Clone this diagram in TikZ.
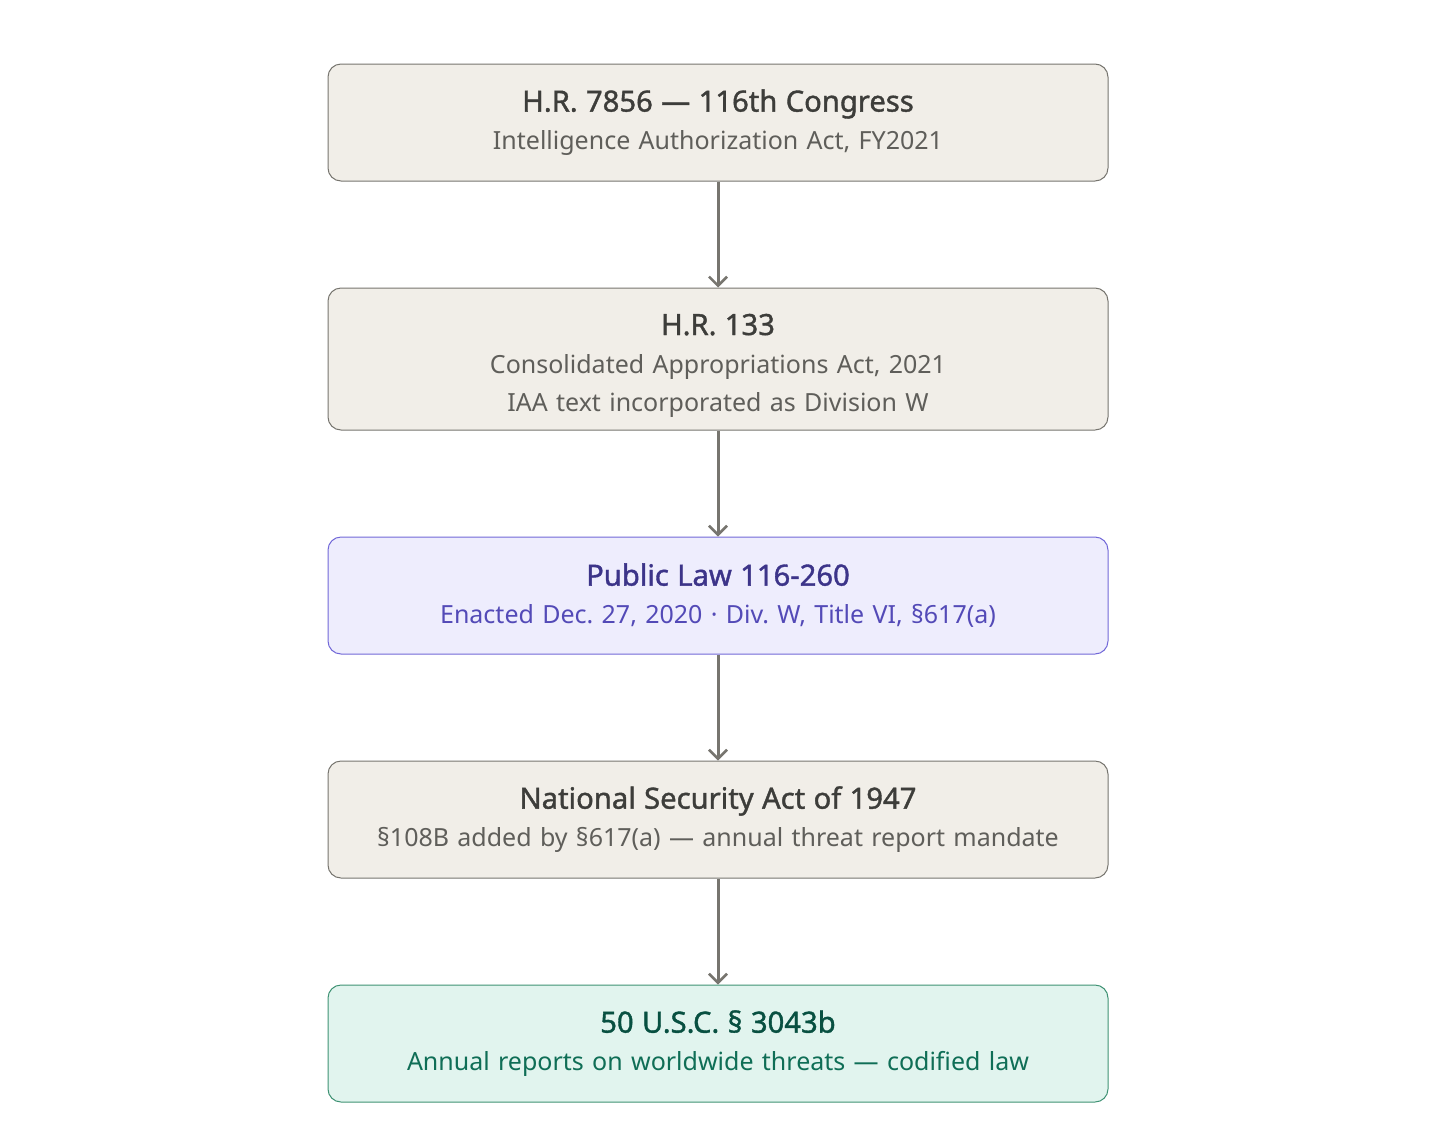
\documentclass[tikz,border=0pt]{standalone}
\usepackage{fontspec}
\setmainfont{Noto Sans}[BoldFont={Noto Sans}, BoldFeatures={FakeBold=1.3}]
\usepackage{tikz}
\usepackage{xcolor}
\usetikzlibrary{arrows.meta, positioning}

\definecolor{paper}{HTML}{F1EEE8}
\definecolor{paperline}{HTML}{77756F}
\definecolor{inkdark}{HTML}{3D3D3A}
\definecolor{inkgray}{HTML}{5F5E5A}
\definecolor{lawfill}{HTML}{EEEDFD}
\definecolor{lawline}{HTML}{7268D8}
\definecolor{lawdark}{HTML}{3C3489}
\definecolor{lawmid}{HTML}{534AB7}
\definecolor{uscfill}{HTML}{E1F4EE}
\definecolor{uscline}{HTML}{3F9274}
\definecolor{uscdark}{HTML}{085041}
\definecolor{uscmid}{HTML}{0F6E56}
\definecolor{flow}{HTML}{77756F}

\newcommand{\head}[1]{{\fontsize{29.2}{38}\selectfont\bfseries #1}}

\begin{document}
\frenchspacing
\begin{tikzpicture}[
    node distance=106pt,
    every node/.style={rectangle, rounded corners=13pt, draw=paperline, fill=paper,
        line width=1pt, text width=760pt, minimum width=780pt, minimum height=117pt,
        align=center, text=inkgray, font=\fontsize{25}{38}\selectfont},
    enacted/.style={draw=lawline, fill=lawfill, text=lawmid},
    codified/.style={draw=uscline, fill=uscfill, text=uscmid},
    flowline/.style={draw=flow, line width=3pt, -{Straight Barb[length=9pt, width=18pt, line width=2.6pt]}}
]
\useasboundingbox (0,0) rectangle (1436pt,-1144pt);

\node (hr7856) at (718pt,-122.5pt) {\head{\color{inkdark}H.R. 7856 — 116th Congress}\\Intelligence Authorization Act, FY2021};
\node (hr133) [below=of hr7856, minimum height=142pt] {\rule{0pt}{34pt}\head{\color{inkdark}H.R. 133}\\Consolidated Appropriations Act, 2021\\IAA text incorporated as Division W};
\node (pl) [enacted, below=of hr133] {\head{\color{lawdark}Public Law 116-260}\\Enacted Dec. 27, 2020 · Div. W, Title VI, §617(a)};
\node (nsa) [below=of pl] {\head{\color{inkdark}National Security Act of 1947}\\§108B added by §617(a) — annual threat report mandate};
\node (usc) [codified, below=of nsa] {\head{\color{uscdark}50 U.S.C. § 3043b}\\Annual reports on worldwide threats — codified law};

\draw [flowline] (hr7856) -- (hr133);
\draw [flowline] (hr133) -- (pl);
\draw [flowline] (pl) -- (nsa);
\draw [flowline] (nsa) -- (usc);

\end{tikzpicture}
\end{document}
